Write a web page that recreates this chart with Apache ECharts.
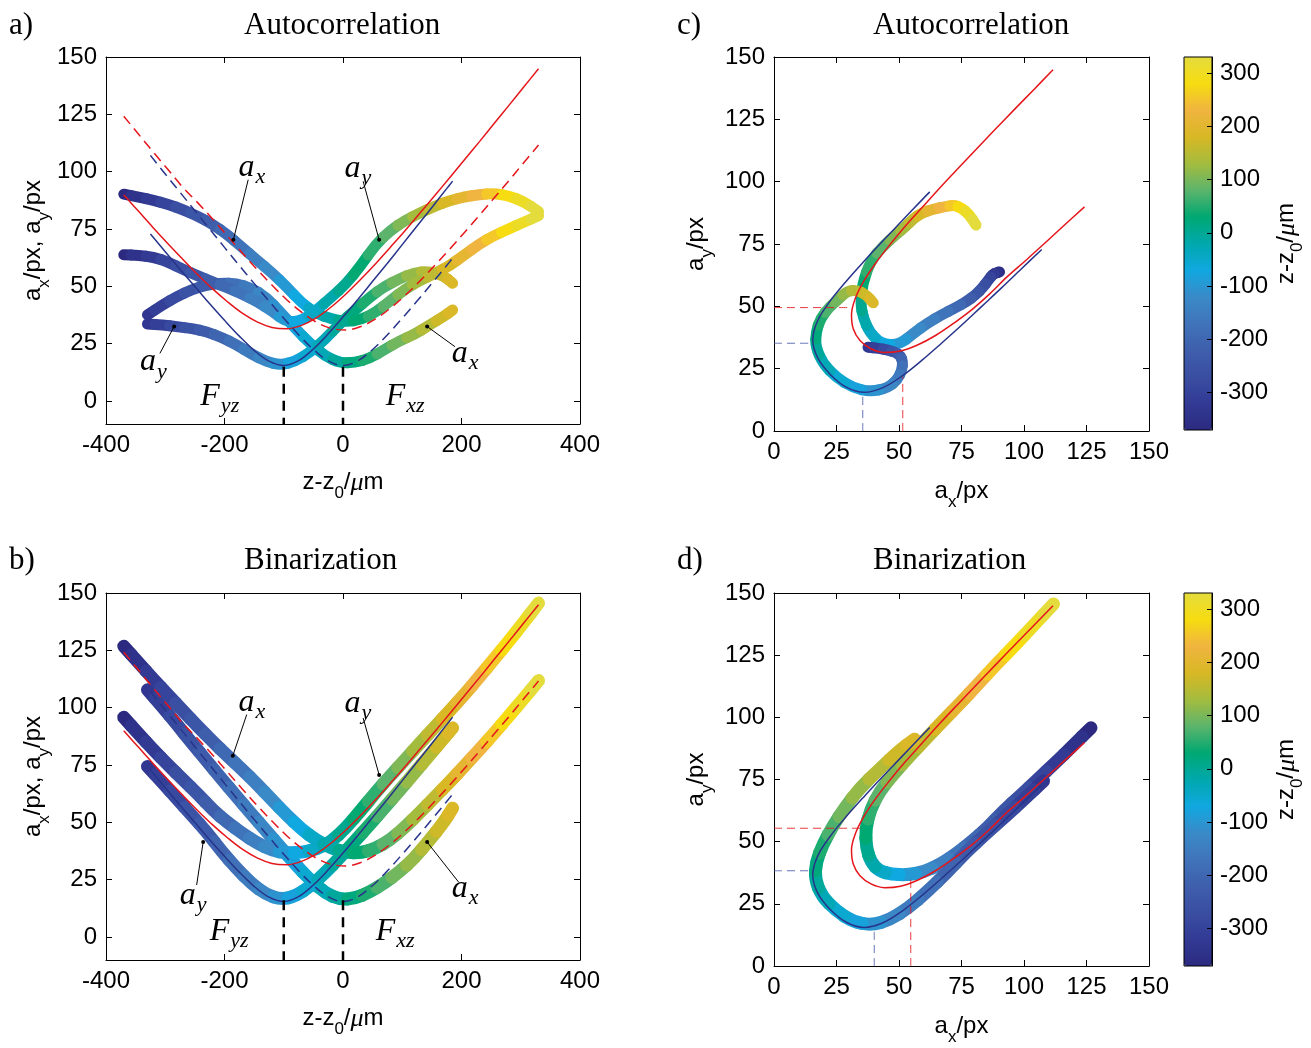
<!DOCTYPE html>
<html><head><meta charset="utf-8">
<script src="https://cdn.jsdelivr.net/npm/echarts@6/dist/echarts.min.js"></script>
<style>html,body{margin:0;padding:0;background:#fff}#chart{width:1311px;height:1048px}</style>
</head><body><div id="chart"></div>
<script>
// ---------------- data ----------------
const zGrid1 = [-370,-345,-320,-295,-270,-245,-220,-195,-170,-145,-120,-95,-70,-45,-20,5,30,55,80,105,130,155,180,205,230,255,280,305,330];
const zGrid2 = [-330,-305,-280,-255,-230,-205,-180,-155,-130,-105,-80,-55,-30,-5,20,45,70,95,120,145,170,185];

// Autocorrelation, dataset 1 and 2
const axA1 = [90.2,89.0,87.5,85.8,83.4,80.6,77.0,72.5,67.0,61.4,56.0,49.8,42.8,38.2,35.8,34.6,35.4,38.6,43.8,48.8,52.6,55.6,59.0,63.8,68.4,72.2,75.0,78.0,80.8];
const ayA1 = [63.8,63.5,62.8,60.6,57.4,54.6,51.9,49.4,46.6,43.3,39.3,34.4,35.0,39.6,45.2,51.0,59.0,68.2,74.4,78.8,82.0,85.0,87.4,89.0,90.0,90.6,89.4,87.0,82.6];
const axA2 = [37.6,41.8,45.6,48.6,50.6,51.5,51.2,49.4,45.4,38.5,31.5,25.0,19.6,16.6,16.8,18.6,22.4,26.2,29.0,33.0,36.9,39.7];
const ayA2 = [33.6,33.2,32.4,31.6,30.2,27.8,24.6,20.6,17.2,15.7,17.4,21.4,27.0,33.9,39.6,45.2,50.0,53.2,56.0,56.6,54.6,51.4];

// Binarization, dataset 1 and 2
const axB1 = [126.8,119.6,112.4,105.4,98.6,91.8,85.2,79.0,73.0,66.6,59.8,53.2,47.0,42.2,38.8,36.9,36.6,38.6,42.4,48.0,54.4,61.0,67.6,74.6,81.6,88.8,96.4,104.0,111.8];
const ayB1 = [95.8,88.6,81.6,75.0,68.6,62.4,55.4,50.0,45.2,41.0,37.8,36.6,36.9,38.2,41.6,47.6,55.2,63.0,70.4,77.4,84.6,91.6,98.6,105.8,113.4,121.2,129.0,137.2,145.6];
const axB2 = [107.8,100.4,92.6,84.6,76.8,69.0,61.4,53.8,46.4,39.0,31.6,24.8,19.2,16.4,16.8,19.6,23.6,28.4,34.2,42.0,50.0,56.2];
const ayB2 = [74.4,67.4,60.2,53.0,45.8,37.4,30.0,23.4,18.6,16.4,17.8,22.2,28.0,34.8,41.8,49.0,56.4,63.8,71.4,79.0,86.6,91.2];

// model curves
const zRed = zGrid1;
const redSolid  = [89.9,82.7,75.5,68.5,61.7,55.1,48.9,43.3,38.3,34.5,32.1,31.5,33.0,36.3,41.0,46.7,53.1,59.9,67.1,74.4,82.0,89.6,97.4,105.2,113.0,121.0,128.9,136.9,144.9];
const redDashed = [124.2,116.3,108.5,100.8,93.1,86.4,79.4,72.0,64.6,57.4,50.6,44.2,38.8,34.4,31.7,31.0,32.5,35.8,40.5,46.1,52.4,59.2,66.2,73.5,80.9,88.5,96.1,103.9,111.6];
const zBlue = [-325,-300,-275,-250,-225,-200,-175,-150,-125,-100,-75,-50,-25,0,25,50,75,100,125,150,175,185];
const blueSolid  = [72.8,65.1,57.4,49.9,42.4,35.2,28.3,22.1,17.4,15.5,17.6,22.7,29.3,36.6,44.3,52.2,60.1,68.2,76.3,84.4,92.6,95.9];
const blueDashed = [107.1,99.0,91.0,83.0,75.0,67.0,59.1,51.3,43.6,36.1,28.9,22.5,17.5,15.5,17.5,22.5,28.9,36.1,43.6,51.3,59.1,62.3];

// ticks
const zTicks = [-400,-200,0,200,400];
const aTicks = [0,25,50,75,100,125,150];
const cbTicks = [-300,-200,-100,0,100,200,300];
const zMin = -370, zMax = 330;

// focus lines and guide lines
const focusZ = [-100, 0];
const focusTopA = 15, focusTopB = 16;
const guideC = {redH:[[0,49.5],[31,49.5]], redV:[[51.5,0],[51.5,21.8]], blueH:[[0,35.2],[15,35.2]], blueV:[[35.5,0],[35.5,15.1]]};
const guideD = {redH:[[0,55.4],[35,55.4]], redV:[[54.7,0],[54.7,35.3]], blueH:[[0,38.3],[15.7,38.3]], blueV:[[40.1,0],[40.1,13.8]]};

// annotations (data coordinates)
const annA = [{at:[-153.6,100.9],m:'a',s:'x'},{at:[25,100.4],m:'a',s:'y'},{at:[-320,16],m:'a',s:'y'},{at:[206,19.6],m:'a',s:'x'},{at:[-208,1],m:'F',s:'yz'},{at:[105,1],m:'F',s:'xz'}];
const leadA = [[[-160,96.5],[-185,70.3]],[[34,95.8],[61,70.3]],[[-309,20.8],[-285,32.5]],[[189,23.7],[142,32.5]]];
const annB = [{at:[-153.6,101.3],m:'a',s:'x'},{at:[25,100.9],m:'a',s:'y'},{at:[-253,17],m:'a',s:'y'},{at:[206,20],m:'a',s:'x'},{at:[-192,1.3],m:'F',s:'yz'},{at:[88,1.3],m:'F',s:'xz'}];
const leadB = [[[-162.5,97],[-186,79]],[[34,95.5],[61,70.7]],[[-247,22.7],[-236,41.4]],[[195,24],[142,41.4]]];

// ---------------- styling ----------------
const parula = ['#2c2a80','#323a94','#3a4ea2','#3e5eac','#4074ba','#3a8ac8','#10a8e0','#00a8ac','#00a872','#5cb46c','#a4bc3e','#d8b824','#f0b440','#f6dc10','#e4dc3c'];
const RED = '#e5161b', BLUE = '#27348b';
const SANS = 'Liberation Sans', SERIF = 'Liberation Serif';

const richAxis = {
  n:{fontFamily:SANS,fontSize:24,color:'#000',verticalAlign:'top'},
  s:{fontFamily:SANS,fontSize:17,color:'#000',verticalAlign:'top',padding:[15,0,0,0]},
  m:{fontFamily:SERIF,fontStyle:'italic',fontSize:26,color:'#000',verticalAlign:'top'}
};
const zName = '{n|z-z}{s|0}{n|/}{m|\u03bc}{n|m}';
const tickSt = {inside:true,length:6,lineStyle:{color:'#000',width:1}};
const lblSt = {color:'#000',fontFamily:SANS,fontSize:24,margin:9};
const lineAx = {show:true,onZero:false,lineStyle:{color:'#000',width:1}};

function ax(gi, pos, min, max, ticks, showLabel, extra) {
  return Object.assign({
    type:'value', gridIndex:gi, position:pos, min:min, max:max,
    axisLine:lineAx,
    axisTick:Object.assign({customValues:ticks}, tickSt),
    axisLabel:Object.assign({customValues:ticks, show:showLabel}, lblSt),
    splitLine:{show:false}
  }, extra || {});
}

const grids = [
  {left:106, top:57, width:474, height:367},
  {left:106, top:593, width:474, height:367},
  {left:774, top:57, width:375, height:374},
  {left:774, top:593, width:375, height:373},
  {left:1184, top:57, width:28, height:373, show:true, borderColor:'#000', borderWidth:1, backgroundColor:'transparent', z:10},
  {left:1184, top:593, width:28, height:373, show:true, borderColor:'#000', borderWidth:1, backgroundColor:'transparent', z:10}
];

const xNameZ = {name:zName, nameLocation:'middle', nameGap:46, nameTextStyle:{rich:richAxis}};
const yNameA = {name:'{n|a}{s|x}{n|/px, a}{s|y}{n|/px}', nameLocation:'middle', nameRotate:90, nameGap:52, nameTextStyle:{rich:richAxis}};
const xNameC = {name:'{n|a}{s|x}{n|/px}', nameLocation:'middle', nameGap:48, nameTextStyle:{rich:richAxis}};
const yNameC = {name:'{n|a}{s|y}{n|/px}', nameLocation:'middle', nameRotate:90, nameGap:58, nameTextStyle:{rich:richAxis}};

const xAxes = [
  ax(0,'bottom',-400,400,zTicks,true,xNameZ), ax(0,'top',-400,400,zTicks,false),
  ax(1,'bottom',-400,400,zTicks,true,xNameZ), ax(1,'top',-400,400,zTicks,false),
  ax(2,'bottom',0,150,aTicks,true,xNameC), ax(2,'top',0,150,aTicks,false),
  ax(3,'bottom',0,150,aTicks,true,xNameC), ax(3,'top',0,150,aTicks,false),
  {type:'value', gridIndex:4, min:0, max:1, show:false},
  {type:'value', gridIndex:5, min:0, max:1, show:false}
];
const cbAxis = (gi) => ({
  type:'value', gridIndex:gi, position:'right', min:zMin, max:zMax, z:12,
  axisLine:lineAx,
  axisTick:{customValues:cbTicks, inside:true, length:5, lineStyle:{color:'#000'}},
  axisLabel:Object.assign({customValues:cbTicks}, lblSt, {margin:8}),
  splitLine:{show:false},
  name:zName, nameLocation:'middle', nameRotate:90, nameGap:62, nameTextStyle:{rich:richAxis}
});
const yAxes = [
  ax(0,'left',-10,150,aTicks,true,yNameA), ax(0,'right',-10,150,aTicks,false),
  ax(1,'left',-10,150,aTicks,true,yNameA), ax(1,'right',-10,150,aTicks,false),
  ax(2,'left',0,150,aTicks,true,yNameC), ax(2,'right',0,150,aTicks,false),
  ax(3,'left',0,150,aTicks,true,yNameC), ax(3,'right',0,150,aTicks,false),
  cbAxis(4), cbAxis(5)
];

// ---------------- series ----------------
const series = [];
const add = (s) => { series.push(s); return series.length - 1; };
const zip = (X, Y) => X.map((x, i) => [x, Y[i]]);

function bandRenderer(X, Y, w) {
  return function (params, api) {
    const i = params.dataIndex, n = X.length;
    const p = api.coord([X[i], Y[i]]);
    const pr = i > 0 ? api.coord([X[i-1], Y[i-1]]) : p;
    const nx = i < n - 1 ? api.coord([X[i+1], Y[i+1]]) : p;
    const a = [(pr[0] + p[0]) / 2, (pr[1] + p[1]) / 2];
    const b = [(nx[0] + p[0]) / 2, (nx[1] + p[1]) / 2];
    return {type:'bezierCurve', shape:{x1:a[0], y1:a[1], x2:b[0], y2:b[1], cpx1:p[0], cpy1:p[1]},
      style:{stroke:api.visual('color'), lineWidth:w, lineCap:'round', fill:'none'}};
  };
}
function band(gi, X, Y, Z, w) {
  return {type:'custom', xAxisIndex:gi*2, yAxisIndex:gi*2, silent:true, z:2,
    data:X.map((x, i) => [x, Y[i], Z[i]]), encode:{x:0, y:1},
    renderItem:bandRenderer(X, Y, w)};
}
function line(gi, data, color, type, width, opacity) {
  return {type:'line', xAxisIndex:gi*2, yAxisIndex:gi*2, data:data, symbol:'none', smooth:0.35, silent:true, z:3,
    lineStyle:{color:color, width:width, type:type, opacity:opacity == null ? 1 : opacity}};
}
const richAnn = {
  m:{fontFamily:SERIF, fontStyle:'italic', fontSize:32, color:'#000', verticalAlign:'top'},
  s:{fontFamily:SERIF, fontStyle:'italic', fontSize:22, color:'#000', verticalAlign:'top', padding:[15,0,0,1]}
};
function annot(gi, ann, lead, fz, ftop) {
  lead.forEach(L => add({type:'line', xAxisIndex:gi*2, yAxisIndex:gi*2, silent:true, z:5,
    data:[{value:L[0], symbol:'none'}, {value:L[1], symbol:'circle', symbolSize:4}],
    lineStyle:{color:'#000', width:1}, itemStyle:{color:'#000'}}));
  fz.forEach(z => add({type:'line', xAxisIndex:gi*2, yAxisIndex:gi*2, silent:true, z:5, symbol:'none',
    data:[[z, ftop], [z, -10]], lineStyle:{color:'#000', width:2.5, type:[10,7]}}));
  add({type:'scatter', xAxisIndex:gi*2, yAxisIndex:gi*2, silent:true, z:6, symbolSize:1,
    itemStyle:{color:'rgba(255,255,255,0)', opacity:1},
    data:ann.map(a => ({value:a.at, label:{show:true, position:'inside', color:'#000', opacity:1,
      textBorderWidth:0, formatter:'{m|' + a.m + '}{s|' + a.s + '}', rich:richAnn}}))});
}
function guides(gi, g) {
  add(line(gi, g.redH, RED, [8,5], 1, 0.85));
  add(line(gi, g.redV, RED, [8,5], 1, 0.85));
  add(line(gi, g.blueH, '#4a5aa8', [8,5], 1, 0.85));
  add(line(gi, g.blueV, '#4a5aa8', [8,5], 1, 0.85));
}

const vm1 = [], vm2 = [];
// panel a
vm1.push(add(band(0, zGrid2, axA2, zGrid2, 11)));
vm1.push(add(band(0, zGrid2, ayA2, zGrid2, 11)));
vm1.push(add(band(0, zGrid1, ayA1, zGrid1, 11)));
vm1.push(add(band(0, zGrid1, axA1, zGrid1, 11)));
add(line(0, zip(zRed, redDashed), RED, [10,6], 1.5));
add(line(0, zip(zRed, redSolid), RED, 'solid', 1.5));
add(line(0, zip(zBlue, blueDashed), BLUE, [10,6], 1.5));
add(line(0, zip(zBlue, blueSolid), BLUE, 'solid', 1.5));
annot(0, annA, leadA, focusZ, focusTopA);
// panel b
vm2.push(add(band(1, zGrid2, axB2, zGrid2, 13)));
vm2.push(add(band(1, zGrid2, ayB2, zGrid2, 13)));
vm2.push(add(band(1, zGrid1, ayB1, zGrid1, 13)));
vm2.push(add(band(1, zGrid1, axB1, zGrid1, 13)));
add(line(1, zip(zRed, redDashed), RED, [10,6], 1.5));
add(line(1, zip(zRed, redSolid), RED, 'solid', 1.5));
add(line(1, zip(zBlue, blueDashed), BLUE, [10,6], 1.5));
add(line(1, zip(zBlue, blueSolid), BLUE, 'solid', 1.5));
annot(1, annB, leadB, focusZ, focusTopB);
// panel c
vm1.push(add(band(2, axA1, ayA1, zGrid1, 11)));
vm1.push(add(band(2, axA2, ayA2, zGrid2, 11)));
add(line(2, zip(redDashed, redSolid), RED, 'solid', 1.5));
add(line(2, zip(blueDashed, blueSolid), BLUE, 'solid', 1.5));
guides(2, guideC);
// panel d
vm2.push(add(band(3, axB1, ayB1, zGrid1, 13)));
vm2.push(add(band(3, axB2, ayB2, zGrid2, 13)));
add(line(3, zip(redDashed, redSolid), RED, 'solid', 1.5));
add(line(3, zip(blueDashed, blueSolid), BLUE, 'solid', 1.5));
guides(3, guideD);

const vmBase = {type:'continuous', dimension:2, min:zMin, max:zMax, inRange:{color:parula},
  show:true, orient:'vertical', left:1184, itemWidth:28, padding:0, calculable:false, hoverLink:false, z:4};

const T = (x, y, text, size) => ({type:'text', x:x, y:y, silent:true,
  style:{text:text, font:size + 'px "' + SERIF + '"', fill:'#000', align:'left', verticalAlign:'middle'}});

const chart = echarts.init(document.getElementById('chart'), null, {renderer:'canvas'});
chart.setOption({
  animation:false,
  backgroundColor:'#fff',
  grid:grids, xAxis:xAxes, yAxis:yAxes,
  visualMap:[
    Object.assign({}, vmBase, {seriesIndex:vm1, top:57, itemHeight:373}),
    Object.assign({}, vmBase, {seriesIndex:vm2, top:593, itemHeight:373})
  ],
  graphic:[
    T(9, 26, 'a)', 31), T(244, 26, 'Autocorrelation', 31),
    T(677, 26, 'c)', 31), T(873, 26, 'Autocorrelation', 31),
    T(9, 561, 'b)', 31), T(244, 561, 'Binarization', 31),
    T(677, 561, 'd)', 31), T(873, 561, 'Binarization', 31)
  ],
  series:series
});
</script></body></html>
